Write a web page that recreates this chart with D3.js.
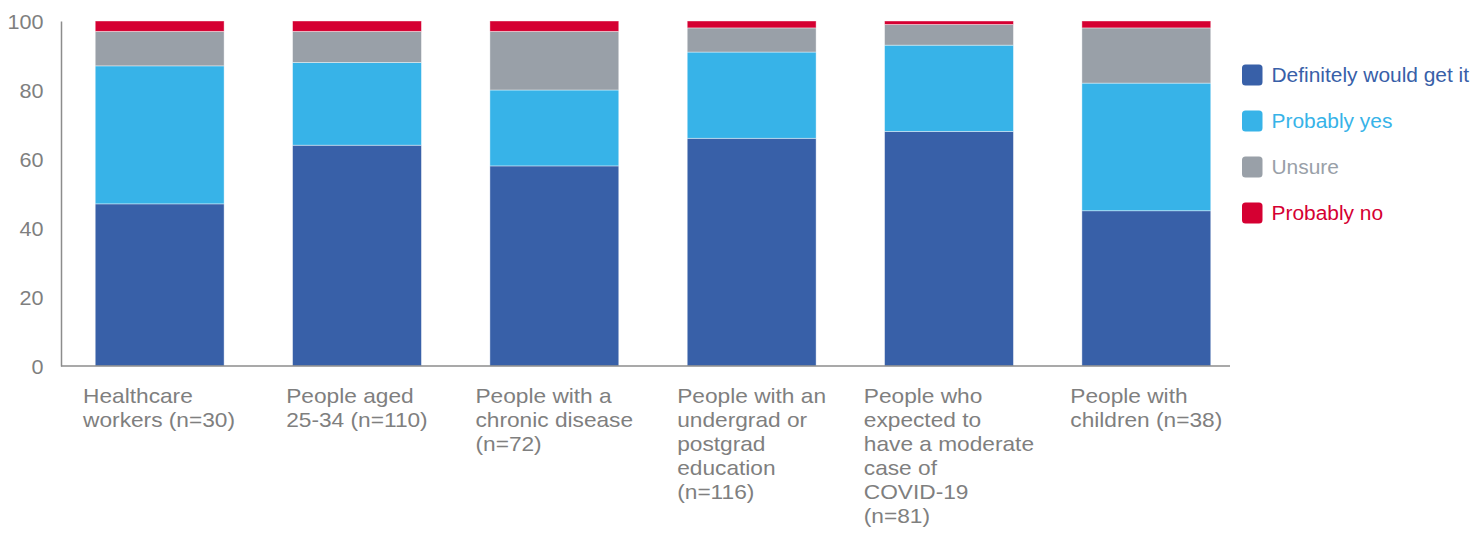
<!DOCTYPE html>
<html>
<head>
<meta charset="utf-8">
<script src="https://cdn.jsdelivr.net/npm/d3@7"></script>
<style>
  html, body { margin: 0; padding: 0; background: #fff; }
  svg { display: block; font-family: "Liberation Sans", Arial, sans-serif; }
</style>
</head>
<body>
<svg id="chart" width="1475" height="533"></svg>
<script>
const categories = [
  ["Healthcare", "workers (n=30)"],
  ["People aged", "25-34 (n=110)"],
  ["People with a", "chronic disease", "(n=72)"],
  ["People with an", "undergrad or", "postgrad", "education", "(n=116)"],
  ["People who", "expected to", "have a moderate", "case of", "COVID-19", "(n=81)"],
  ["People with", "children (n=38)"]
];
const seriesNames = ["Definitely would get it", "Probably yes", "Unsure", "Probably no"];
const definitely = [47, 64, 58, 66, 68, 45];
const probablyYes = [40, 24, 22, 25, 25, 37];
const unsure = [10, 9, 17, 7, 6, 16];
const probablyNo = [3, 3, 3, 2, 1, 2];
const yTicks = [0, 20, 40, 60, 80, 100];

const colors = ["#3860a8", "#37b3e8", "#99a0a8", "#d50032"];

const svg = d3.select("#chart");

const keys = categories.map((c, i) => "c" + i);
const table = keys.map((k, i) => ({
  key: k,
  s0: definitely[i], s1: probablyYes[i], s2: unsure[i], s3: probablyNo[i]
}));
const stack = d3.stack().keys(["s0", "s1", "s2", "s3"])(table);

const x = d3.scaleBand().domain(keys).range([61, 1245]).paddingInner(0.347).paddingOuter(0.1735);
const y = d3.scaleLinear().domain([0, 100]).range([366, 21]);

// bars
const g = svg.append("g");
stack.forEach((layer, li) => {
  g.selectAll(null).data(layer).enter().append("rect")
    .attr("x", d => x(d.data.key))
    .attr("width", x.bandwidth())
    .attr("y", d => y(d[1]))
    .attr("height", d => y(d[0]) - y(d[1]))
    .attr("fill", colors[li])
    .attr("stroke", "#ffffff")
    .attr("stroke-opacity", 0.5)
    .attr("stroke-width", 0.8);
});

// y axis
const yAxis = d3.axisLeft(y).tickValues(yTicks).tickSize(0).tickPadding(0).tickFormat("");
const ya = svg.append("g").attr("transform", "translate(61,0)").call(yAxis);
ya.select(".domain").attr("stroke", "#8c8c8c").attr("stroke-width", 1.5);
ya.selectAll(".tick").each(function(d) {
  d3.select(this).select("text").remove();
  d3.select(this).append("text")
    .attr("text-anchor", "end")
    .attr("fill", "#7f7f7f")
    .attr("font-size", 20)
    .attr("font-family", "'Liberation Sans', Arial, sans-serif")
    .attr("transform", "translate(-17.5,7) scale(1.08,1)")
    .text(d);
});

// x axis baseline
const xAxis = d3.axisBottom(x).tickSize(0).tickFormat("");
const xa = svg.append("g").attr("transform", "translate(0,366)").call(xAxis);
xa.select(".domain").attr("stroke", "#8c8c8c").attr("stroke-width", 1.5)
  .attr("d", "M61,0H1230");

// category labels
const catSx = 1.135;
keys.forEach((k, i) => {
  const t = svg.append("text")
    .attr("fill", "#7f7f7f")
    .attr("font-size", 20);
  categories[i].forEach((line, li) => {
    t.append("tspan").attr("x", 0).attr("y", 402.7 + li * 24).text(line);
  });
  const w = t.node().getBBox().width * catSx;
  const cx = x(k) + x.bandwidth() / 2;
  t.attr("transform", `translate(${cx - w / 2},0) scale(${catSx},1)`);
});

// legend
const legend = svg.append("g");
seriesNames.forEach((name, i) => {
  const cy = 75 + i * 46;
  legend.append("rect")
    .attr("x", 1242).attr("y", cy - 10.5).attr("width", 20.5).attr("height", 21)
    .attr("rx", 3.5).attr("fill", colors[i]);
  legend.append("text")
    .attr("transform", `translate(1271.5,${cy + 6.5}) scale(1.046,1)`)
    .attr("font-size", 20)
    .attr("fill", colors[i])
    .text(name);
});
</script>
</body>
</html>
